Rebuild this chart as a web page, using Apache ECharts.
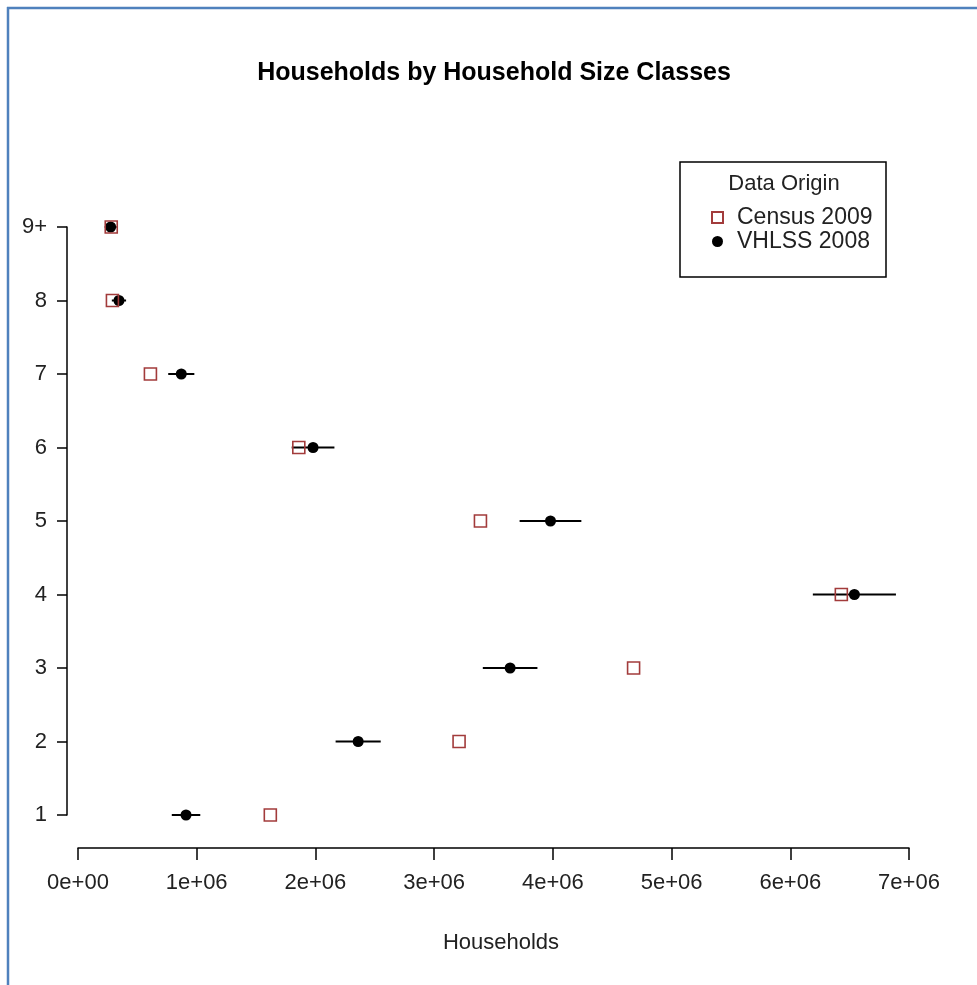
<!DOCTYPE html>
<html>
<head>
<meta charset="utf-8">
<script src="https://cdn.jsdelivr.net/npm/echarts@6/dist/echarts.min.js"></script>
<style>
  html, body { margin: 0; padding: 0; background: #ffffff; }
  #chart { width: 977px; height: 985px; }
</style>
</head>
<body>
<div id="chart"></div>
<script>
// Household size classes (y axis, bottom to top)
const sizeClasses = ['1', '2', '3', '4', '5', '6', '7', '8', '9+'];
// Number of households per size class
const census2009 = [1.62e6, 3.21e6, 4.68e6, 6.43e6, 3.39e6, 1.86e6, 0.61e6, 0.29e6, 0.28e6];
const vhlss2008 = [0.91e6, 2.36e6, 3.64e6, 6.54e6, 3.98e6, 1.98e6, 0.87e6, 0.345e6, 0.275e6];
// Half-width of the VHLSS confidence interval
const vhlssMargin = [0.12e6, 0.19e6, 0.23e6, 0.35e6, 0.26e6, 0.18e6, 0.11e6, 0.06e6, 0.05e6];
// X axis ticks
const xTicks = [0, 1e6, 2e6, 3e6, 4e6, 5e6, 6e6, 7e6];

const FONT = 'Liberation Sans, Arial, sans-serif';
const CENSUS_COLOR = '#a23b3b';

const censusData = census2009.map((v, i) => [v, i + 1]);
const vhlssData = vhlss2008.map((v, i) => [v, i + 1]);
const errorData = vhlss2008.map((v, i) => [v - vhlssMargin[i], v + vhlssMargin[i], i + 1]);

function sciLabel(v) {
  if (v === 0) return '0e+00';
  const exp = Math.floor(Math.log10(v));
  const mant = Math.round(v / Math.pow(10, exp));
  return mant + 'e+' + String(exp).padStart(2, '0');
}

const chart = echarts.init(document.getElementById('chart'), null, { renderer: 'canvas' });

chart.setOption({
  animation: false,
  backgroundColor: '#ffffff',
  title: [
    {
      text: 'Households by Household Size Classes',
      left: 494, top: 61, textAlign: 'center', padding: 0,
      textStyle: { fontFamily: FONT, fontSize: 25, fontWeight: 'bold', color: '#000' }
    },
    {
      text: 'Households',
      left: 501, top: 932, textAlign: 'center', padding: 0,
      textStyle: { fontFamily: FONT, fontSize: 22, fontWeight: 'normal', color: '#222' }
    },
    {
      text: 'Data Origin',
      left: 784, top: 173, textAlign: 'center', padding: 0,
      textStyle: { fontFamily: FONT, fontSize: 22, fontWeight: 'normal', color: '#222' }
    }
  ],
  legend: {
    orient: 'vertical',
    left: 711, top: 206,
    padding: 0,
    itemGap: 1,
    itemWidth: 11, itemHeight: 11,
    textStyle: { fontFamily: FONT, fontSize: 23, color: '#222', padding: [0, 0, 0, 9], lineHeight: 22 },
    data: [
      { name: 'Census 2009', icon: 'rect' },
      { name: 'VHLSS 2008', icon: 'circle' }
    ]
  },
  grid: { left: 78, right: 68, top: 227, bottom: 170 },
  xAxis: {
    type: 'value',
    min: 0, max: 7e6,
    offset: 33,
    splitLine: { show: false },
    axisLine: { show: true, onZero: false, lineStyle: { color: '#000', width: 1.5 } },
    axisTick: { show: true, length: 12, customValues: xTicks, lineStyle: { color: '#000', width: 1.5 } },
    axisLabel: {
      customValues: xTicks,
      margin: 24,
      fontFamily: FONT, fontSize: 22, color: '#222',
      formatter: sciLabel
    }
  },
  yAxis: {
    type: 'value',
    min: 1, max: 9, interval: 1,
    offset: 11,
    splitLine: { show: false },
    axisLine: { show: true, onZero: false, lineStyle: { color: '#000', width: 1.5 } },
    axisTick: { show: true, length: 10, lineStyle: { color: '#000', width: 1.5 } },
    axisLabel: {
      margin: 20,
      fontFamily: FONT, fontSize: 22, color: '#222',
      formatter: v => sizeClasses[v - 1]
    }
  },
  graphic: [
    // page frame
    { type: 'line', shape: { x1: 7, y1: 8, x2: 977, y2: 8 }, style: { stroke: '#4f81bd', lineWidth: 2.5 } },
    { type: 'line', shape: { x1: 8, y1: 7, x2: 8, y2: 985 }, style: { stroke: '#4f81bd', lineWidth: 2.5 } },
    // legend box
    { type: 'rect', shape: { x: 680, y: 162, width: 206, height: 115 }, style: { fill: 'none', stroke: '#000', lineWidth: 1.5 } }
  ],
  series: [
    {
      name: 'VHLSS interval',
      type: 'custom',
      data: errorData,
      z: 2,
      clip: false,
      renderItem: function (params, api) {
        const p1 = api.coord([api.value(0), api.value(2)]);
        const p2 = api.coord([api.value(1), api.value(2)]);
        return {
          type: 'line',
          shape: { x1: p1[0], y1: p1[1], x2: p2[0], y2: p2[1] },
          style: { stroke: '#000', lineWidth: 2 }
        };
      }
    },
    {
      name: 'VHLSS 2008',
      type: 'scatter',
      data: vhlssData,
      symbol: 'circle',
      symbolSize: 11,
      z: 3,
      clip: false,
      itemStyle: { color: '#000', opacity: 1 }
    },
    {
      name: 'Census 2009',
      type: 'scatter',
      data: censusData,
      symbol: 'rect',
      symbolSize: 12,
      z: 4,
      clip: false,
      itemStyle: { color: 'rgba(255,255,255,0)', borderColor: CENSUS_COLOR, borderWidth: 1.6, opacity: 1 }
    }
  ]
});
</script>
</body>
</html>
